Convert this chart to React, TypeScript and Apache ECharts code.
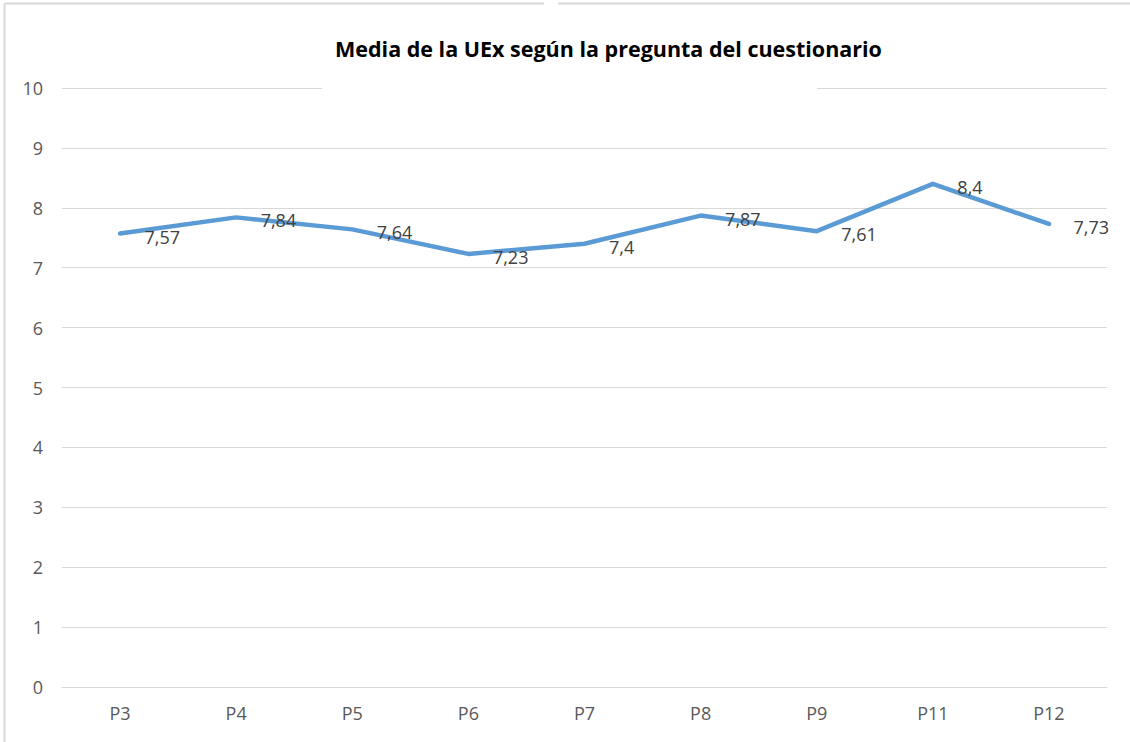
import React, { useEffect, useRef } from "react";
import * as echarts from "echarts";

const titleText = "Media de la UEx según la pregunta del cuestionario";
const categories = ["P3", "P4", "P5", "P6", "P7", "P8", "P9", "P11", "P12"];
const values = [7.57, 7.84, 7.64, 7.23, 7.4, 7.87, 7.61, 8.4, 7.73];

export default function App() {
  const ref = useRef<HTMLDivElement>(null);
  useEffect(() => {
    const chart = echarts.init(ref.current!, undefined, { renderer: "svg" });
    const font = "Open Sans";
    chart.setOption({
      animation: false,
      backgroundColor: "#ffffff",
      title: {
        text: titleText,
        left: 330,
        top: 32,
        textStyle: { fontFamily: font, fontWeight: "bold", fontSize: 21.5, color: "#000000" },
      },
      grid: { left: 62, right: 23, top: 88, bottom: 55 },
      xAxis: {
        type: "category",
        data: categories,
        boundaryGap: true,
        axisLine: { show: true, lineStyle: { color: "#d9d9d9", width: 1 } },
        axisTick: { show: false },
        axisLabel: { fontFamily: font, fontSize: 18, color: "#595959", margin: 17 },
      },
      yAxis: {
        type: "value",
        min: 0,
        max: 10,
        interval: 1,
        axisLine: { show: false },
        axisTick: { show: false },
        splitLine: { lineStyle: { color: "#d9d9d9", width: 1 } },
        axisLabel: { fontFamily: font, fontSize: 18, color: "#595959", margin: 19 },
      },
      graphic: [
        { type: "rect", shape: { x: 322, y: 80, width: 495, height: 16 }, style: { fill: "#ffffff" }, z: 100 },
        { type: "line", shape: { x1: 4.5, y1: 3.5, x2: 544, y2: 3.5 }, style: { stroke: "#d9d9d9", lineWidth: 2 }, z: 100 },
        { type: "line", shape: { x1: 558, y1: 3.5, x2: 1130, y2: 3.5 }, style: { stroke: "#d9d9d9", lineWidth: 2 }, z: 100 },
        { type: "line", shape: { x1: 4.5, y1: 3.5, x2: 4.5, y2: 742 }, style: { stroke: "#d9d9d9", lineWidth: 2 }, z: 100 },
      ],
      series: [
        {
          type: "line",
          data: values,
          symbol: "circle",
          symbolSize: 1,
          showSymbol: true,
          itemStyle: { color: "rgba(91,155,213,0)" },
          lineStyle: { color: "#5b9bd5", width: 4.5, cap: "round", join: "round" },
          label: {
            show: true,
            position: "right",
            distance: 24,
            offset: [0, 3],
            fontFamily: font,
            fontSize: 18,
            color: "#404040",
            formatter: (p: any) => String(p.value).replace(".", ","),
          },
        },
      ],
    });
    return () => chart.dispose();
  }, []);
  return (
    <div
      ref={ref}
      style={{ position: "absolute", left: 0, top: 0, width: 1130, height: 742 }}
    />
  );
}
